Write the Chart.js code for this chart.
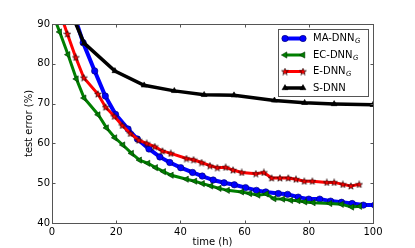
<!DOCTYPE html>
<html>
<head>
<meta charset="utf-8">
<script src="https://cdn.jsdelivr.net/npm/chart.js@4/dist/chart.umd.min.js"></script>
<style>
  html, body { margin: 0; padding: 0; background: #fff; }
  #khung { width: 415px; height: 248px; }
</style>
</head>
<body>
<div id="khung"><canvas id="bieuDo"></canvas></div>
<script>
// Du lieu doc tu hinh ---------------------------------------------------
const tenChuoi = ["MA-DNN", "EC-DNN", "E-DNN", "S-DNN"];
const chiSoDuoi = ["G", "G", "G", ""];

const xMA = [0, 3.2, 6.4, 9.7, 13.3, 16.6, 19.8, 23.7, 26.6, 30.2, 33.6, 36.7, 40.1, 43.8, 46.8, 50.2, 53.6, 56.8, 60.3, 63.7, 66.6, 70.5, 73.4, 76.7, 80.0, 83.4, 86.8, 90.2, 93.5, 97.0, 100.5];
const yMA = [110, 102, 93.5, 85.3, 78.2, 71.9, 67.3, 63.6, 61.1, 58.6, 56.6, 55.2, 53.9, 52.7, 51.8, 50.8, 50.1, 49.6, 48.9, 48.2, 47.8, 47.4, 47.2, 46.5, 46.0, 46.0, 45.5, 45.2, 44.9, 44.5, 44.5];

const xEC = [0, 2.4, 5.0, 7.6, 10.0, 14.4, 17.0, 19.6, 22.1, 24.8, 27.3, 29.9, 32.3, 34.8, 37.2, 41.9, 44.5, 46.9, 49.5, 52.1, 54.7, 59.1, 61.6, 64.2, 66.8, 69.2, 71.9, 74.4, 76.7, 78.8, 81.4, 86.6, 90.2, 93.4, 95.9];
const yEC = [93, 88.0, 82.3, 76.2, 71.4, 67.2, 63.9, 61.4, 59.6, 57.5, 55.8, 55.0, 53.9, 52.9, 52.0, 51.0, 50.5, 49.9, 49.3, 48.7, 48.2, 47.8, 47.4, 47.0, 47.3, 46.1, 46.0, 45.7, 45.6, 45.3, 45.1, 44.9, 44.7, 44.0, 44.2];

const xE = [0, 2.4, 4.8, 7.4, 9.9, 14.3, 16.7, 19.4, 21.9, 24.4, 27.0, 29.5, 32.0, 34.4, 37.0, 41.9, 44.1, 46.6, 49.2, 51.5, 54.1, 56.4, 59.1, 63.5, 66.0, 68.4, 71.0, 73.6, 76.0, 78.6, 81.1, 85.6, 87.9, 90.6, 93.1, 95.7];
const yE = [98, 93, 87.5, 81.6, 76.5, 72.4, 69.1, 66.8, 64.5, 62.5, 60.8, 60.0, 59.2, 58.1, 57.5, 56.2, 55.9, 55.2, 54.4, 53.9, 54.0, 53.3, 52.7, 52.4, 52.7, 51.3, 51.3, 51.3, 51.0, 50.5, 50.5, 50.2, 50.2, 49.7, 49.3, 49.7];

const xS = [0, 10.0, 19.6, 28.7, 38.1, 47.4, 56.7, 69.3, 78.7, 87.9, 100];
const yS = [104, 85.2, 78.2, 74.6, 73.2, 72.2, 72.1, 70.8, 70.2, 69.9, 69.7];

const nhanTrucX = [0, 20, 40, 60, 80, 100];
const nhanTrucY = [40, 50, 60, 70, 80, 90];

// Ghep cap x, y cho Chart.js
function ghepDiem(xs, ys) {
  return xs.map((x, i) => ({ x: x, y: ys[i] }));
}

// Hinh ngoi sao 5 canh nho cho E-DNN
function taoNgoiSao() {
  const c = document.createElement("canvas");
  c.width = 8; c.height = 8;
  const g = c.getContext("2d");
  g.beginPath();
  for (let i = 0; i < 10; i++) {
    const r = i % 2 === 0 ? 3.6 : 1.5;
    const a = -Math.PI / 2 + i * Math.PI / 5;
    const px = 4 + Math.cos(a) * r;
    const py = 4.3 + Math.sin(a) * r;
    if (i === 0) g.moveTo(px, py); else g.lineTo(px, py);
  }
  g.closePath();
  g.fillStyle = "#ff0000";
  g.fill();
  g.lineWidth = 0.6;
  g.strokeStyle = "#000";
  g.stroke();
  return c;
}
const ngoiSao = taoNgoiSao();

const kieuChuoi = [
  { mau: "#0000ff", day: 4, diem: "circle", banKinh: 3.2, xoay: 0, vien: "#000066" },
  { mau: "#007f00", day: 3, diem: "triangle", banKinh: 3.6, xoay: -90, vien: "#003300" },
  { mau: "#ff0000", day: 3, diem: ngoiSao, banKinh: 3.5, xoay: 0, vien: "#000" },
  { mau: "#000000", day: 3.5, diem: "triangle", banKinh: 3.4, xoay: 0, vien: "#000" }
];

const duLieuChuoi = [ghepDiem(xMA, yMA), ghepDiem(xEC, yEC), ghepDiem(xE, yE), ghepDiem(xS, yS)];

const datasets = duLieuChuoi.map((d, i) => ({
  label: tenChuoi[i],
  data: d,
  borderColor: kieuChuoi[i].mau,
  backgroundColor: kieuChuoi[i].mau,
  borderWidth: kieuChuoi[i].day,
  pointStyle: kieuChuoi[i].diem,
  pointRadius: kieuChuoi[i].banKinh,
  pointRotation: kieuChuoi[i].xoay,
  pointBackgroundColor: kieuChuoi[i].mau,
  pointBorderColor: kieuChuoi[i].vien,
  pointBorderWidth: 0.6,
  tension: 0,
  clip: 0,
  order: 3 - i
}));

// Khung truc va vach chia huong vao trong
const khungTruc = {
  id: "khungTruc",
  afterDatasetsDraw(chart) {
    const { ctx, chartArea: a, scales } = chart;
    ctx.save();
    ctx.strokeStyle = "#555";
    ctx.lineWidth = 1;
    const l = Math.round(a.left) + 0.5, r = Math.round(a.right) + 0.5;
    const t = Math.round(a.top) + 0.5, b = Math.round(a.bottom) + 0.5;
    ctx.strokeRect(l, t, r - l, b - t);
    ctx.beginPath();
    nhanTrucX.forEach(v => {
      const px = Math.round(scales.x.getPixelForValue(v)) + 0.5;
      ctx.moveTo(px, b); ctx.lineTo(px, b - 3);
      ctx.moveTo(px, t); ctx.lineTo(px, t + 3);
    });
    nhanTrucY.forEach(v => {
      const py = Math.round(scales.y.getPixelForValue(v)) + 0.5;
      ctx.moveTo(l, py); ctx.lineTo(l + 3, py);
      ctx.moveTo(r, py); ctx.lineTo(r - 3, py);
    });
    ctx.stroke();
    ctx.restore();
  }
};

// Chu giai ve tay de co chi so duoi G
const chuGiai = {
  id: "chuGiai",
  afterDraw(chart) {
    const ctx = chart.ctx;
    const hopX = 278.5, hopY = 29.5, hopW = 90, hopH = 67;
    ctx.save();
    ctx.fillStyle = "#fff";
    ctx.fillRect(hopX, hopY, hopW, hopH);
    ctx.strokeStyle = "#555";
    ctx.lineWidth = 1;
    ctx.strokeRect(hopX, hopY, hopW, hopH);
    tenChuoi.forEach((ten, i) => {
      const k = kieuChuoi[i];
      const y = 38.5 + i * 16.5;
      ctx.beginPath();
      ctx.strokeStyle = k.mau;
      ctx.lineWidth = k.day;
      ctx.moveTo(285, y);
      ctx.lineTo(303, y);
      ctx.stroke();
      const tuyChon = {
        pointStyle: k.diem, radius: k.banKinh, rotation: k.xoay,
        borderWidth: 0.6
      };
      ctx.fillStyle = k.mau;
      ctx.strokeStyle = k.vien;
      ctx.lineWidth = 0.6;
      Chart.helpers.drawPoint(ctx, tuyChon, 285, y);
      ctx.fillStyle = k.mau;
      ctx.strokeStyle = k.vien;
      Chart.helpers.drawPoint(ctx, tuyChon, 303, y);
      ctx.fillStyle = "#000";
      ctx.font = "10px 'DejaVu Sans'";
      ctx.textBaseline = "middle";
      ctx.textAlign = "left";
      ctx.fillText(ten, 313, y);
      if (chiSoDuoi[i]) {
        const w = ctx.measureText(ten).width;
        ctx.font = "italic 7px 'DejaVu Sans'";
        ctx.fillText(chiSoDuoi[i], 313 + w + 0.5, y + 3);
      }
    });
    ctx.restore();
  }
};

Chart.defaults.font.family = "'DejaVu Sans'";
Chart.defaults.font.size = 10;
Chart.defaults.color = "#000";

new Chart(document.getElementById("bieuDo"), {
  type: "line",
  data: { datasets: datasets },
  options: {
    responsive: true,
    maintainAspectRatio: false,
    animation: false,
    layout: { padding: { top: 24, right: 42, left: 0, bottom: 0 } },
    plugins: { legend: { display: false }, tooltip: { enabled: false } },
    scales: {
      x: {
        type: "linear",
        min: 0, max: 100,
        grid: { display: false, drawTicks: false },
        border: { display: false },
        ticks: { stepSize: 20, padding: 3, maxRotation: 0 },
        title: { display: true, text: "time (h)", padding: { top: 0, bottom: 0 } },
        afterFit(s) { s.height = 25; }
      },
      y: {
        type: "linear",
        min: 40, max: 90,
        grid: { display: false, drawTicks: false },
        border: { display: false },
        ticks: { stepSize: 10, padding: 2 },
        title: { display: true, text: "test error (%)", padding: { top: 23, bottom: 0 } },
        afterFit(s) { s.width = 52; }
      }
    }
  },
  plugins: [khungTruc, chuGiai]
});
</script>
</body>
</html>
